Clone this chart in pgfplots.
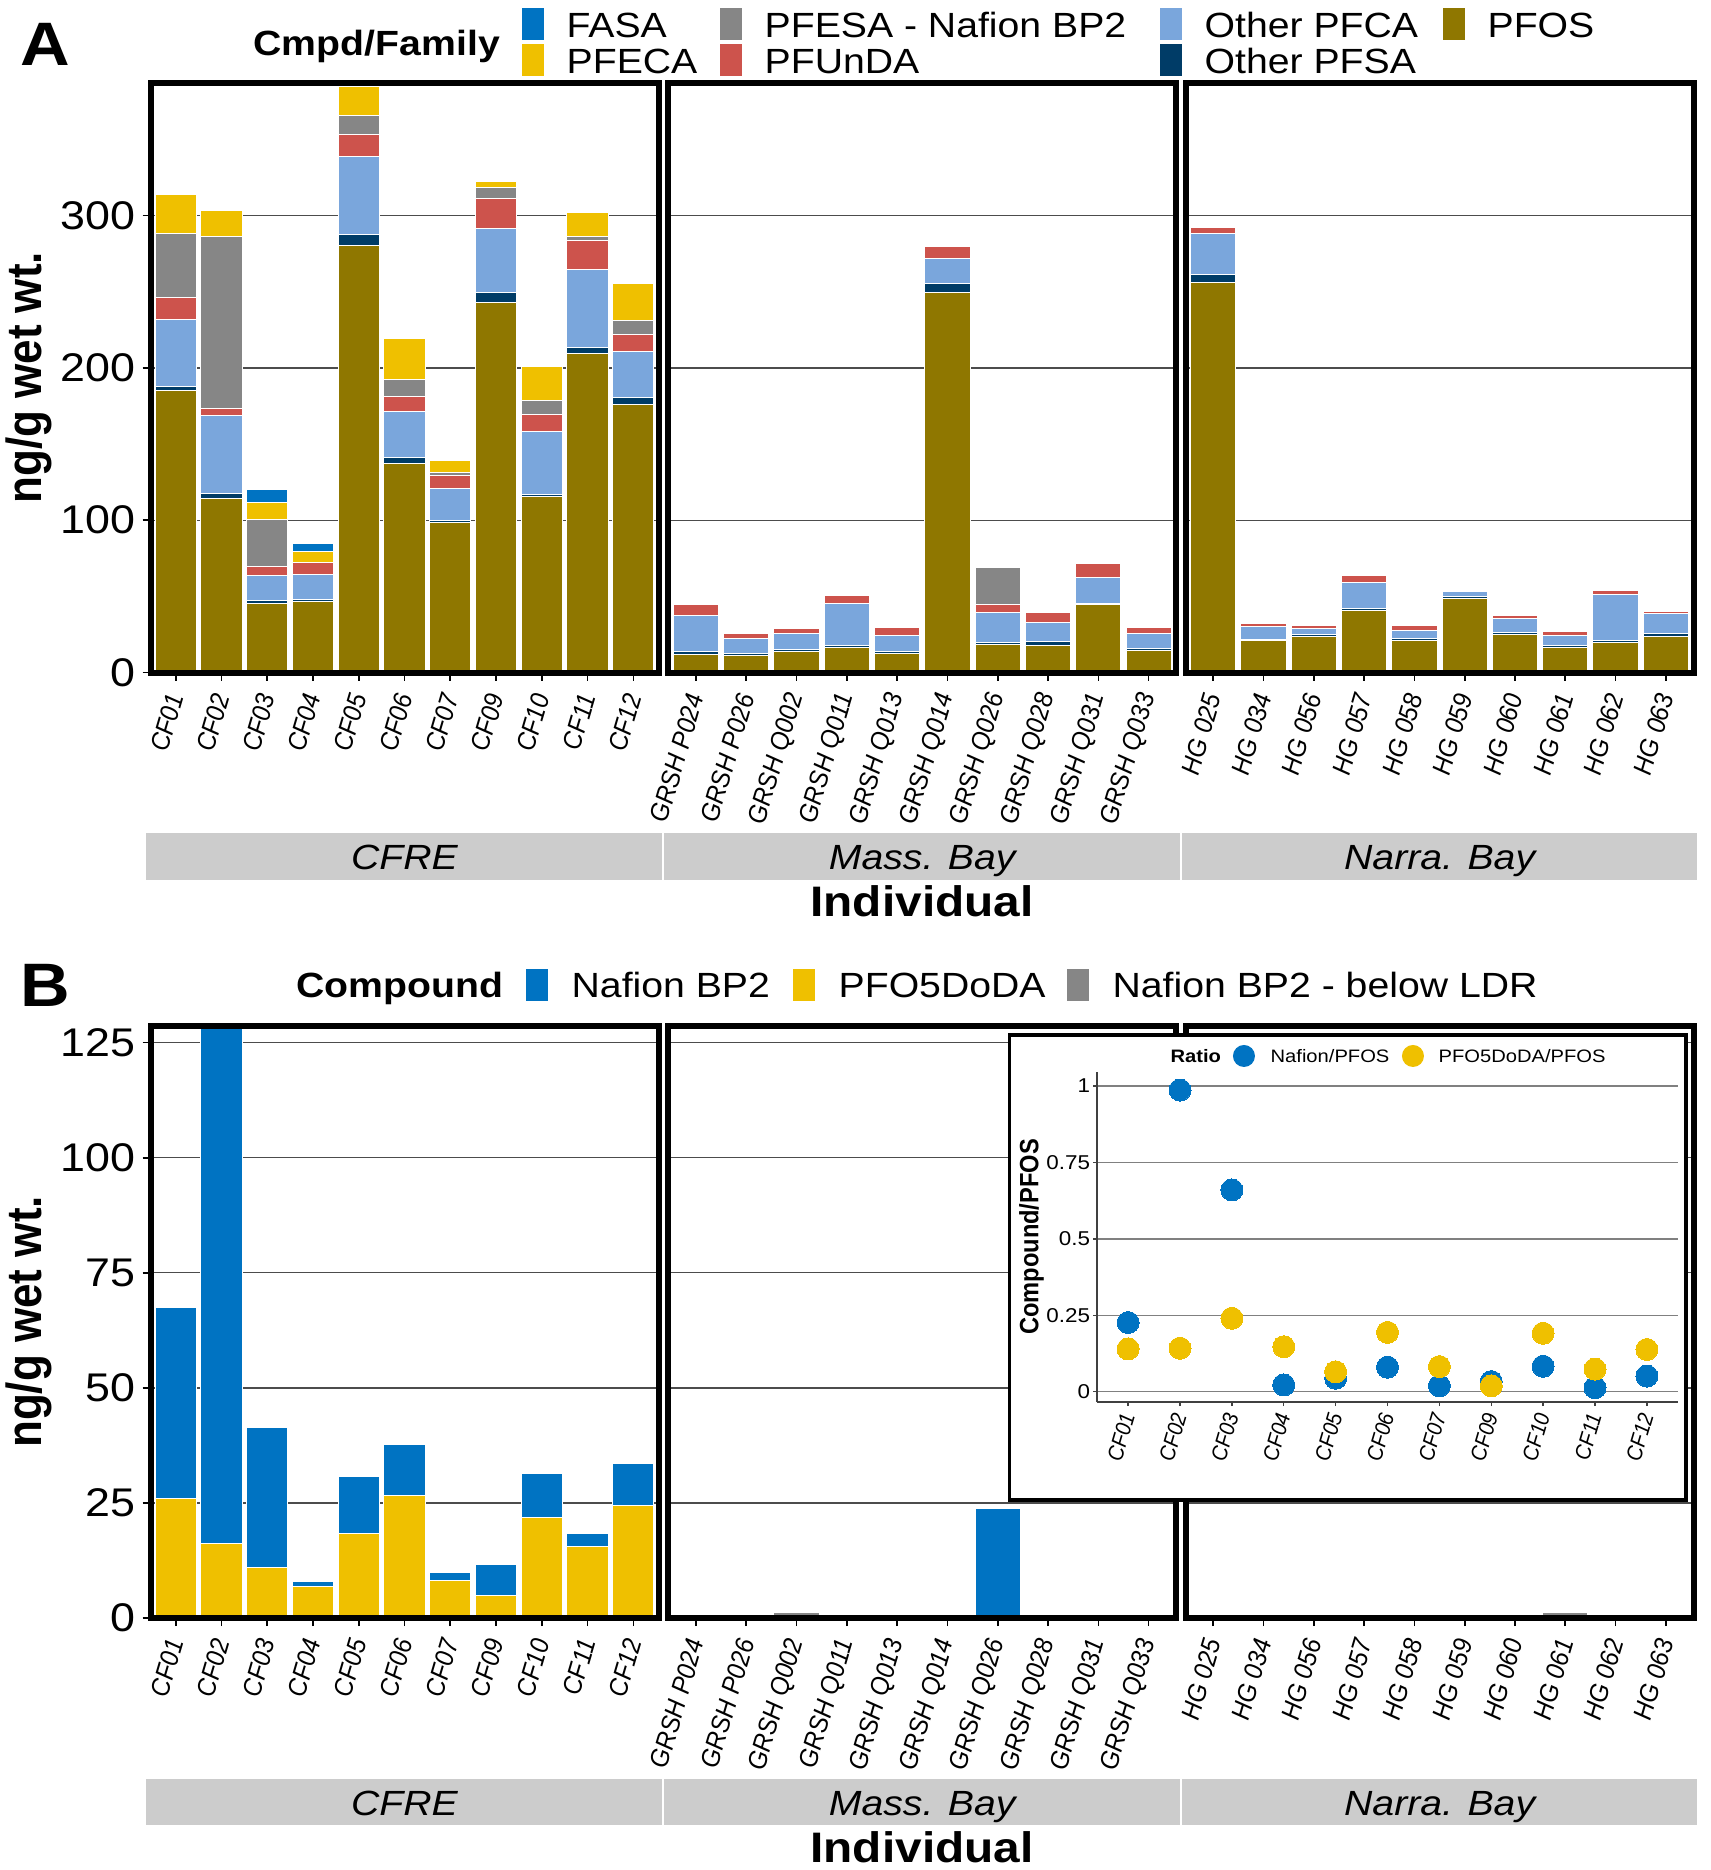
\documentclass[border=0pt]{standalone}
\usepackage{fontspec}
\setmainfont{Liberation Sans}[FakeStretch=1.12]
\newfontfamily\rotfont{Liberation Sans}
\usepackage{pgfplots}
\usepackage{pgfplotstable}
\pgfplotsset{compat=1.18}

\definecolor{cFASA}{HTML}{0073C2}
\definecolor{cPFECA}{HTML}{EFC000}
\definecolor{cPFESA}{HTML}{868686}
\definecolor{cPFUnDA}{HTML}{CD534C}
\definecolor{cPFCA}{HTML}{7AA6DC}
\definecolor{cPFSA}{HTML}{003C67}
\definecolor{cPFOS}{HTML}{8F7700}
\definecolor{stripgray}{HTML}{CCCCCC}

\newcommand{\fs}[1]{\fontsize{#1bp}{#1bp}\selectfont}

% panel A: stacked families
\pgfplotstableread{
x PFOS PFSA PFCA PFUnDA PFESA PFECA FASA
0 185.0 3.0 43.5 15.0 42.0 25.5 0
1 114.2 3.6 50.8 4.7 112.9 17.3 0
2 45.6 1.5 16.9 5.9 30.6 10.9 8.8
3 46.4 1.3 16.8 7.5 0.5 6.8 5.1
4 280.0 7.8 50.7 15.0 12.2 18.7 1.0
5 137.5 3.7 30.0 9.8 11.2 26.9 0
6 98.7 1.0 21.0 8.5 1.9 8.2 0
7 242.7 6.5 42.2 19.7 7.0 4.4 0
8 115.5 1.3 41.7 10.6 9.6 22.0 0
9 209.4 3.9 51.5 18.7 2.8 15.6 0
10 175.9 4.4 30.3 11.4 9.0 24.1 0
}\cfreA
\pgfplotstableread{
x PFOS PFSA PFCA PFUnDA PFESA
0 11.9 1.6 24.1 6.9 0
1 11.1 1.3 10.1 3.4 0
2 14.0 1.0 10.4 3.6 0
3 16.6 1.0 28.0 4.9 0
4 12.4 1.3 10.4 5.4 0
5 249.4 5.7 16.6 7.8 0
6 18.1 1.3 19.7 5.4 24.4
7 17.9 2.3 12.7 6.7 0
8 44.5 1.1 17.1 9.0 0
9 14.5 1.0 9.9 4.1 0
}\massA
\pgfplotstableread{
x PFOS PFSA PFCA PFUnDA
0 255.9 5.7 26.9 3.7
1 20.7 1.3 8.0 2.4
2 23.6 1.3 4.1 1.8
3 40.4 1.3 17.1 4.9
4 21.2 1.3 5.2 2.9
5 48.7 1.0 3.7 0.5
6 24.9 1.3 9.3 1.8
7 16.3 1.3 6.7 2.9
8 19.4 1.3 30.3 2.9
9 23.8 1.6 13.2 1.5
}\narraA

% panel B: compounds
\pgfplotstableread{
x PFO Naf LDR
0 25.9 41.6 0
1 16.2 112.0 0
2 11.0 30.4 0
3 6.8 1.1 0
4 18.4 12.3 0
5 26.7 11.0 0
6 8.1 1.8 0
7 4.9 6.7 0
8 21.9 9.6 0
9 15.5 2.8 0
10 24.4 9.1 0
}\cfreB
\pgfplotstableread{
x PFO Naf LDR
0 0 0 0
1 0 0 0
2 0 0 1.2
3 0 0 0
4 0 0 0
5 0 0 0
6 0 23.7 0
7 0 0 0
8 0 0 0
9 0 0 0
}\massB
\pgfplotstableread{
x PFO Naf LDR
0 0 0 0
1 0 0 0
2 0 0 0
3 0 0 0
4 0 0 0
5 0 0 0
6 0 0 0
7 0 0 1.2
8 0 0 0
9 0 0 0
}\narraB

% inset: ratio to PFOS
\pgfplotstableread{
x naf pfo
0 0.226 0.140
1 0.987 0.142
2 0.660 0.240
3 0.022 0.147
4 0.044 0.065
5 0.080 0.194
6 0.019 0.082
7 0.033 0.019
8 0.083 0.191
9 0.013 0.074
10 0.051 0.138
}\ratios

\pgfplotsset{
  panel/.style={
    scale only axis, width=152.4bp,
    axis line style={draw=none},
    tick align=outside, tick pos=left,
    major tick length=2.4bp,
    tick style={black, line width=0.5bp},
    ymajorgrids, grid style={black!70, line width=0.4bp},
    ybar stacked, bar width=0.9,
    xticklabel style={xscale=1.1, rotate=75, anchor=east, inner sep=0pt,
      font=\rotfont\itshape\fs{7.2}},
    xticklabel shift=3.9bp,
    yticklabel style={font=\fs{12}, inner sep=0pt},
    yticklabel shift=1.9bp,
    every axis plot/.append style={draw=white, line width=0.3bp},
  },
  cfre/.style={xmin=-0.55, xmax=10.55, xtick={0,...,10},
    xticklabels={CF01,CF02,CF03,CF04,CF05,CF06,CF07,CF09,CF10,CF11,CF12}},
  mass/.style={xmin=-0.55, xmax=9.55, xtick={0,...,9},
    xticklabels={GRSH P024,GRSH P026,GRSH Q002,GRSH Q011,GRSH Q013,GRSH Q014,GRSH Q026,GRSH Q028,GRSH Q031,GRSH Q033}},
  narra/.style={xmin=-0.55, xmax=9.55, xtick={0,...,9},
    xticklabels={HG 025,HG 034,HG 056,HG 057,HG 058,HG 059,HG 060,HG 061,HG 062,HG 063}},
  rowA/.style={height=176.85bp, ymin=0, ymax=387, ytick={0,100,200,300}},
  rowB/.style={height=177.6bp, ymin=0, ymax=128.6, ytick={0,25,50,75,100,125}},
  inner/.style={yticklabels={}, y tick style={draw=none}},
}

\begin{document}
\begin{tikzpicture}
\useasboundingbox (0,0) rectangle (513.3bp,-561bp);

% ---------------- panel A ----------------
\begin{axis}[panel, cfre, rowA, name=a1, at={(45.15bp,-24.9bp)}, anchor=north west,
  yticklabels={0,100,200,300}]
\addplot[fill=cPFOS] table[x=x,y=PFOS]{\cfreA};
\addplot[fill=cPFSA] table[x=x,y=PFSA]{\cfreA};
\addplot[fill=cPFCA] table[x=x,y=PFCA]{\cfreA};
\addplot[fill=cPFUnDA] table[x=x,y=PFUnDA]{\cfreA};
\addplot[fill=cPFESA] table[x=x,y=PFESA]{\cfreA};
\addplot[fill=cPFECA] table[x=x,y=PFECA]{\cfreA};
\addplot[fill=cFASA] table[x=x,y=FASA]{\cfreA};
\end{axis}
\begin{axis}[panel, mass, rowA, inner, name=a2, at={(200.49bp,-24.9bp)}, anchor=north west]
\addplot[fill=cPFOS] table[x=x,y=PFOS]{\massA};
\addplot[fill=cPFSA] table[x=x,y=PFSA]{\massA};
\addplot[fill=cPFCA] table[x=x,y=PFCA]{\massA};
\addplot[fill=cPFUnDA] table[x=x,y=PFUnDA]{\massA};
\addplot[fill=cPFESA] table[x=x,y=PFESA]{\massA};
\end{axis}
\begin{axis}[panel, narra, rowA, inner, name=a3, at={(355.65bp,-24.9bp)}, anchor=north west]
\addplot[fill=cPFOS] table[x=x,y=PFOS]{\narraA};
\addplot[fill=cPFSA] table[x=x,y=PFSA]{\narraA};
\addplot[fill=cPFCA] table[x=x,y=PFCA]{\narraA};
\addplot[fill=cPFUnDA] table[x=x,y=PFUnDA]{\narraA};
\end{axis}

% ---------------- panel B ----------------
\begin{axis}[panel, cfre, rowB, name=b1, at={(45.15bp,-307.8bp)}, anchor=north west,
  yticklabels={0,25,50,75,100,125}]
\addplot[fill=cPFECA] table[x=x,y=PFO]{\cfreB};
\addplot[fill=cFASA] table[x=x,y=Naf]{\cfreB};
\addplot[fill=cPFESA] table[x=x,y=LDR]{\cfreB};
\end{axis}
\begin{axis}[panel, mass, rowB, inner, name=b2, at={(200.49bp,-307.8bp)}, anchor=north west]
\addplot[fill=cPFECA] table[x=x,y=PFO]{\massB};
\addplot[fill=cFASA] table[x=x,y=Naf]{\massB};
\addplot[fill=cPFESA] table[x=x,y=LDR]{\massB};
\end{axis}
\begin{axis}[panel, narra, rowB, inner, name=b3, at={(355.65bp,-307.8bp)}, anchor=north west]
\addplot[fill=cPFECA] table[x=x,y=PFO]{\narraB};
\addplot[fill=cFASA] table[x=x,y=Naf]{\narraB};
\addplot[fill=cPFESA] table[x=x,y=LDR]{\narraB};
\end{axis}

% thick panel borders
\foreach \p in {a1,a2,a3,b1,b2,b3}
  \draw[line width=1.8bp] (\p.south west) rectangle (\p.north east);

\begin{scope}[x=0.3bp, y=-0.3bp]
% panel letters
\node[anchor=base west, font=\bfseries\fs{18.4}, inner sep=0pt] at (20,65) {A};
\node[anchor=base west, font=\bfseries\fs{18.4}, inner sep=0pt] at (20,1007) {B};

% legend A
\node[anchor=base west, font=\bfseries\fs{10.5}, inner sep=0pt] at (253,55) {Cmpd/Family};
\fill[cFASA] (522,8) rectangle (544,40);
\fill[cPFECA] (522,44) rectangle (544,76);
\fill[cPFESA] (720,8) rectangle (742,40);
\fill[cPFUnDA] (720,44) rectangle (742,76);
\fill[cPFCA] (1160,8) rectangle (1182,40);
\fill[cPFSA] (1160,44) rectangle (1182,76);
\fill[cPFOS] (1443,8) rectangle (1465,40);
\begin{scope}[every node/.style={anchor=base west, font=\fs{10.5}, inner sep=0pt}]
\node at (566,37.5) {FASA};
\node at (566,73) {PFECA};
\node at (764,37.5) {PFESA - Nafion BP2};
\node at (764,73) {PFUnDA};
\node at (1204,37.5) {Other PFCA};
\node at (1204,73) {Other PFSA};
\node at (1487,37.5) {PFOS};
\end{scope}

% legend B
\node[anchor=base west, font=\bfseries\fs{10.5}, inner sep=0pt] at (296,998) {Compound};
\fill[cFASA] (526,969) rectangle (548,1001);
\fill[cPFECA] (793,969) rectangle (815,1001);
\fill[cPFESA] (1067,969) rectangle (1089,1001);
\begin{scope}[every node/.style={anchor=base west, font=\fs{10.5}, inner sep=0pt}]
\node at (571,998) {Nafion BP2};
\node at (838,998) {PFO5DoDA};
\node at (1112,998) {Nafion BP2 - below LDR};
\end{scope}

% y axis titles
\node[xscale=1.12, rotate=90, anchor=base, font=\rotfont\bfseries\fs{13.2}, inner sep=0pt] at (41.7,377.8) {ng/g wet wt.};
\node[xscale=1.12, rotate=90, anchor=base, font=\rotfont\bfseries\fs{13.2}, inner sep=0pt] at (41.7,1322) {ng/g wet wt.};

% facet strips and x titles
\foreach \yo in {0,945.5}{
  \fill[stripgray] (146.5,833.3+\yo) rectangle (662.3,880+\yo);
  \fill[stripgray] (664.3,833.3+\yo) rectangle (1180,880+\yo);
  \fill[stripgray] (1182,833.3+\yo) rectangle (1697.5,880+\yo);
  \node[anchor=base, font=\itshape\fs{10.5}, inner sep=0pt] at (404.4,870+\yo) {CFRE};
  \node[anchor=base, font=\itshape\fs{10.5}, inner sep=0pt] at (922.2,870+\yo) {Mass. Bay};
  \node[anchor=base, font=\itshape\fs{10.5}, inner sep=0pt] at (1439.7,870+\yo) {Narra. Bay};
  \node[anchor=base, font=\bfseries\fs{12.8}, inner sep=0pt] at (922,916.7+\yo) {Individual};
}

% inset box
\fill[white] (1009.5,1035) rectangle (1686,1500);
\draw[line width=1.1bp] (1009.5,1035) rectangle (1686,1500);
\node[anchor=base west, font=\bfseries\fs{5.4}, inner sep=0pt] at (1170,1063) {Ratio};
\fill[cFASA] (1244,1056) circle (11);
\fill[cPFECA] (1413,1056) circle (11);
\node[anchor=base west, font=\fs{5.4}, inner sep=0pt] at (1270,1063) {Nafion/PFOS};
\node[anchor=base west, font=\fs{5.4}, inner sep=0pt] at (1438,1063) {PFO5DoDA/PFOS};
\node[xscale=1.12, rotate=90, anchor=base, font=\rotfont\bfseries\fs{7.1}, inner sep=0pt] at (1038.5,1237) {Compound/PFOS};
\end{scope}

% inset axis
\begin{axis}[name=ins, at={(329.1bp,-321.5bp)}, anchor=north west,
  scale only axis, width=174.3bp, height=99.1bp,
  xmin=-0.6, xmax=10.6, ymin=-0.034, ymax=1.047,
  axis x line*=bottom, axis y line*=left,
  axis line style={black!75, line width=0.6bp, -},
  tick align=outside, major tick length=1.2bp,
  tick style={black!75, line width=0.4bp},
  ymajorgrids, grid style={black!50, line width=0.4bp},
  ytick={0,0.25,0.5,0.75,1}, yticklabels={0,0.25,0.5,0.75,1},
  yticklabel style={font=\fs{6}, inner sep=0pt},
  yticklabel shift=0.7bp,
  xtick={0,...,10},
  xticklabels={CF01,CF02,CF03,CF04,CF05,CF06,CF07,CF09,CF10,CF11,CF12},
  xticklabel style={xscale=1.1, rotate=75, anchor=east, inner sep=0pt, font=\rotfont\itshape\fs{6}},
  xticklabel shift=2.1bp,
  clip=false]
\addplot[only marks, mark=*, mark size=3.3bp, mark options={draw=cFASA, fill=cFASA, line width=0pt}] table[x=x,y=naf]{\ratios};
\addplot[only marks, mark=*, mark size=3.3bp, mark options={draw=cPFECA, fill=cPFECA, line width=0pt}] table[x=x,y=pfo]{\ratios};
\end{axis}
\end{tikzpicture}
\end{document}
